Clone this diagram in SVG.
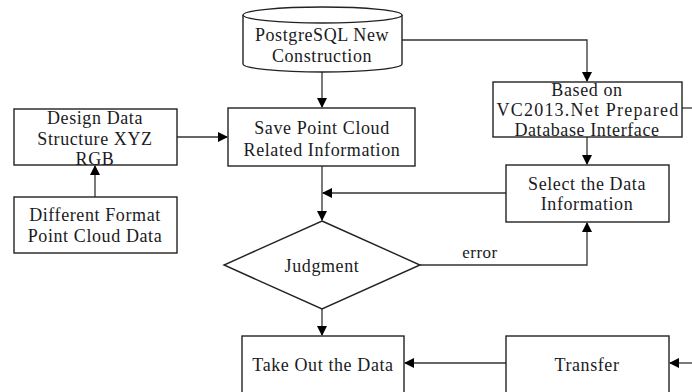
<svg xmlns="http://www.w3.org/2000/svg" width="692" height="392" viewBox="0 0 692 392">
<defs>
<marker id="arr" markerWidth="10" markerHeight="10" refX="9" refY="5" orient="auto" markerUnits="userSpaceOnUse">
<path d="M0,0 L10,5 L0,10 Z" fill="#000"/>
</marker>
<style>
.box{fill:#fff;stroke:#222;stroke-width:1.4}
.t{font-family:"Liberation Serif","Times New Roman",serif;font-size:18px;letter-spacing:0.6px;fill:#1a1a22;text-anchor:middle}
.c{fill:none;stroke:#333;stroke-width:1.3}
</style>
</defs>
<rect width="692" height="392" fill="#fff"/>
<g id="connectors">
<path class="c" d="M402,40 H587 V81" marker-end="url(#arr)"/>
<path class="c" d="M322,72 V107" marker-end="url(#arr)"/>
<path class="c" d="M177,137 H227" marker-end="url(#arr)"/>
<path class="c" d="M95,197 V166" marker-end="url(#arr)"/>
<path class="c" d="M587,137 V164" marker-end="url(#arr)"/>
<path class="c" d="M322,166 V220" marker-end="url(#arr)"/>
<path class="c" d="M506,193 H323" marker-end="url(#arr)"/>
<path class="c" d="M420,265 H587 V223" marker-end="url(#arr)"/>
<path class="c" d="M322,309 V335" marker-end="url(#arr)"/>
<path class="c" d="M506,363 H405" marker-end="url(#arr)"/>
<path class="c" d="M692,363 H670" marker-end="url(#arr)"/>
<path class="c" d="M682,108 H692"/>
<text class="t" x="480" y="258" style="font-size:17px;letter-spacing:0.5px">error</text>
</g>
<g id="n-postgres">
<path class="box" d="M243,15 V64 A79.5,8 0 0 0 402,64 V15 A79.5,8 0 0 0 243,15 Z"/>
<path class="box" d="M243,15 A79.5,8 0 0 0 402,15" fill="none"/>
<text class="t" x="322" y="41">PostgreSQL New</text>
<text class="t" x="322" y="62">Construction</text>
</g>
<g id="n-based">
<rect class="box" x="493" y="82" width="189" height="55"/>
<text class="t" x="587" y="96">Based on</text>
<text class="t" x="588" y="116" style="letter-spacing:1.2px">VC2013.Net Prepared</text>
<text class="t" x="587" y="136">Database Interface</text>
</g>
<g id="n-design">
<rect class="box" x="14" y="109" width="163" height="56"/>
<text class="t" x="95" y="124">Design Data</text>
<text class="t" x="95" y="145">Structure XYZ</text>
<text class="t" x="95" y="165">RGB</text>
</g>
<g id="n-save">
<rect class="box" x="228" y="108" width="187" height="58"/>
<text class="t" x="322" y="134">Save Point Cloud</text>
<text class="t" x="322" y="156">Related Information</text>
</g>
<g id="n-different">
<rect class="box" x="14" y="197" width="163" height="56"/>
<text class="t" x="95" y="221">Different Format</text>
<text class="t" x="95" y="242">Point Cloud Data</text>
</g>
<g id="n-select">
<rect class="box" x="506" y="165" width="163" height="57"/>
<text class="t" x="587" y="190">Select the Data</text>
<text class="t" x="587" y="210">Information</text>
</g>
<g id="n-judgment">
<path class="box" d="M322,221 L420,265 L322,309 L224,265 Z"/>
<text class="t" x="322" y="272">Judgment</text>
</g>
<g id="n-takeout">
<rect class="box" x="242" y="336" width="162" height="62"/>
<text class="t" x="323" y="371">Take Out the Data</text>
</g>
<g id="n-transfer">
<rect class="box" x="506" y="336" width="163" height="62"/>
<text class="t" x="587" y="371">Transfer</text>
</g>
</svg>
